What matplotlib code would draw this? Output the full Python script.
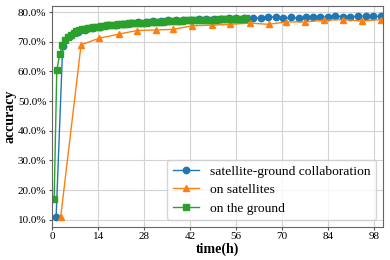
import matplotlib
matplotlib.use("Agg")
import matplotlib.pyplot as plt
from matplotlib.ticker import FuncFormatter

plt.rcParams['font.family'] = ['Liberation Serif', 'DejaVu Serif']

# ---- data (time in hours, accuracy in %) ----
collab_t = [1.2, 3.2, 5.5, 7.8, 10.1, 12.4, 14.7, 17.0, 19.3, 21.6, 23.9,
            26.2, 28.5, 30.8, 33.1, 35.4, 37.7, 40.0, 42.3, 44.6, 46.9, 49.2,
            51.5, 53.8, 56.1, 58.5,
            61.1, 63.5, 65.7, 68.1, 70.4, 72.8, 75.2, 77.4, 79.5, 81.6, 84.0,
            86.3, 88.6, 90.9, 93.3, 95.6, 97.9, 100.1]
collab_acc = [11.0, 68.5, 71.8, 73.2, 74.0, 74.6, 75.1, 75.5, 75.8, 76.1, 76.4,
              76.6, 76.8, 77.0, 77.1, 77.3, 77.4, 77.5, 77.5, 77.6, 77.7, 77.8,
              77.8, 77.9, 78.0, 78.0,
              78.1, 78.0, 78.5, 78.3, 78.1, 78.2, 78.0, 78.2, 78.5, 78.3, 78.4,
              78.7, 78.5, 78.5, 78.6, 78.7, 78.6, 78.6]

sat_t = [2.6, 8.8, 14.3, 20.3, 25.8, 31.5, 36.9, 42.6, 48.6, 54.2, 60.3,
         66.0, 71.2, 77.0, 82.8, 88.6, 94.4, 100.1]
sat_acc = [11.0, 69.0, 71.2, 72.6, 73.8, 74.0, 74.2, 75.4, 75.6, 75.9, 76.3,
           75.9, 76.7, 76.7, 77.3, 77.5, 77.0, 77.5]

ground_t = [0.6, 1.4, 2.3, 3.1, 4.0, 4.8, 5.7, 6.5, 7.4, 8.2, 9.1, 9.9, 10.8,
            11.6, 12.5, 13.3, 14.2, 15.0, 15.9, 16.7, 17.6, 18.4, 19.3, 20.1,
            21.0, 21.8, 22.7, 23.5, 24.4, 25.2, 26.1, 26.9, 27.8, 28.6, 29.5,
            30.3, 31.2, 32.0, 32.9, 33.7, 34.6, 35.4, 36.3, 37.1, 38.0, 38.8,
            39.7, 40.5, 41.4, 42.2, 43.1, 43.9, 44.8, 45.6, 46.5, 47.3, 48.2,
            49.0, 49.9, 50.7, 51.6, 52.4, 53.3, 54.1, 55.0, 55.8, 56.7, 57.5,
            58.4, 59.2]
ground_acc = [17.0, 60.4, 65.8, 69.0, 70.6, 71.6, 72.4, 73.0, 73.6, 74.0, 74.2,
              74.4, 74.6, 74.7, 74.9, 75.0, 75.1, 75.2, 75.4, 75.5, 75.6, 75.7,
              75.8, 75.9, 76.0, 76.0, 76.1, 76.2, 76.2, 76.3, 76.4, 76.4, 76.5,
              76.5, 76.6, 76.6, 76.7, 76.7, 76.8, 76.8, 76.9, 76.9, 77.0, 77.0,
              77.0, 77.1, 77.1, 77.2, 77.2, 77.2, 77.3, 77.3, 77.3, 77.4, 77.4,
              77.4, 77.5, 77.5, 77.5, 77.6, 77.6, 77.6, 77.6, 77.7, 77.7, 77.7,
              77.8, 77.8, 77.8, 77.9]

labels = ['satellite-ground collaboration', 'on satellites', 'on the ground']
x_ticks = [0, 14, 28, 42, 56, 70, 84, 98]
y_ticks = [10, 20, 30, 40, 50, 60, 70, 80]

fig = plt.figure(figsize=(3.9, 2.6), dpi=100)
ax = fig.add_axes([0.133, 0.128, 0.849, 0.849])

ax.plot(collab_t, collab_acc, color='#1f77b4', marker='o', markersize=4.6,
        lw=1.0, label=labels[0])
ax.plot(sat_t, sat_acc, color='#ff7f0e', marker='^', markersize=4.4,
        lw=1.0, label=labels[1])
ax.plot(ground_t, ground_acc, color='#2ca02c', marker='s', markersize=4.8,
        lw=1.0, label=labels[2])

ax.set_xlim(-0.1, 100.8)
ax.set_xticks(x_ticks)
ax.set_yticks(y_ticks)
ax.yaxis.set_major_formatter(FuncFormatter(lambda v, p: f'{v:.1f}%'))
ax.tick_params(labelsize=8, length=2, color='#555555', pad=2)
ax.grid(True, color='#d3d3d3', lw=0.8)
ax.set_axisbelow(True)
for s in ax.spines.values():
    s.set_color('#666666')

ax.set_xlabel('time(h)', fontsize=10, fontweight='bold', labelpad=1)
ax.set_ylabel('accuracy', fontsize=10, fontweight='bold', labelpad=1)

ax.legend(loc='lower right', fontsize=9.7, frameon=True, framealpha=0.8,
          edgecolor='#cccccc', handlelength=2.0, borderaxespad=0.5,
          labelspacing=0.45)

fig.savefig('out.png', dpi=100)
